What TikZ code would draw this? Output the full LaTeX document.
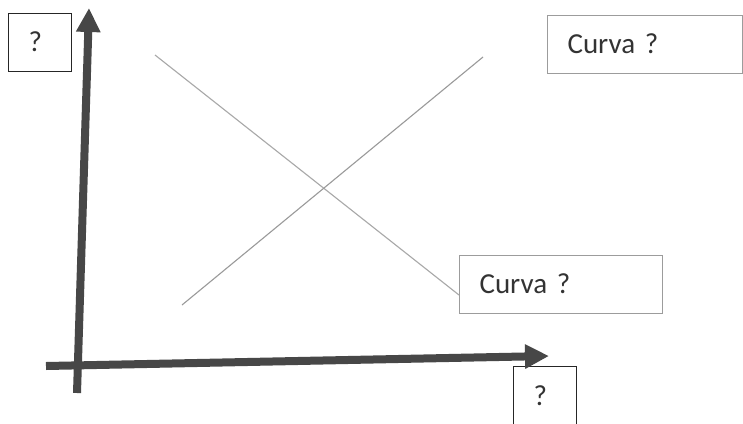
\documentclass[tikz,border=0pt]{standalone}
\usepackage{fontspec}
\setmainfont{Carlito}
\usetikzlibrary{arrows.meta}
\definecolor{axiscol}{HTML}{474747}
\definecolor{curvecol}{HTML}{A8A8A8}
\definecolor{curvecolb}{HTML}{9A9A9A}
\definecolor{boxgray}{HTML}{9C9C9C}
\definecolor{boxdark}{HTML}{262626}
\begin{document}
\begin{tikzpicture}[x=1pt,y=-1pt,
  axisline/.style={draw=axiscol,line width=8pt,-{Triangle[length=24pt,width=23pt]}},
  curveline/.style={draw=curvecol,line width=1.1pt},
  labelbox/.style={anchor=north west,inner xsep=20pt,inner ysep=0pt,align=left,
    minimum height=58pt,text height=22pt,text depth=4pt,
    font=\fontsize{29}{34}\selectfont,text=black!80},
  graybox/.style={labelbox,draw=boxgray,line width=1.1pt},
  darkbox/.style={labelbox,draw=boxdark,line width=1.3pt}]
\useasboundingbox (0,0) rectangle (743,423);
\fill[white] (0,0) rectangle (743,423);
% boxes
\node[darkbox,text width=23pt] (qy) at (8,13) {?};
\node[graybox,text width=155pt] (cup) at (547,15) {Curva ?};
\node[graybox,text width=163pt] (cdown) at (459,255) {Curva ?};
\node[darkbox,text width=23pt,minimum height=59pt] (qx) at (513,366) {?};
% curves
\coordinate (d1) at (155,55);
\coordinate (d2) at (459,295);
\coordinate (a1) at (182,305);
\coordinate (a2) at (483,57);
\draw[curveline] (d1) -- (d2);
\draw[curveline,draw=curvecolb] (a1) -- (a2);
% axes
\coordinate (yb) at (77,393);
\coordinate (yt) at (89,8);
\coordinate (xl) at (46,366);
\coordinate (xr) at (549,356);
\draw[axisline] (yb) -- (yt);
\draw[axisline] (xl) -- (xr);
\end{tikzpicture}
\end{document}
